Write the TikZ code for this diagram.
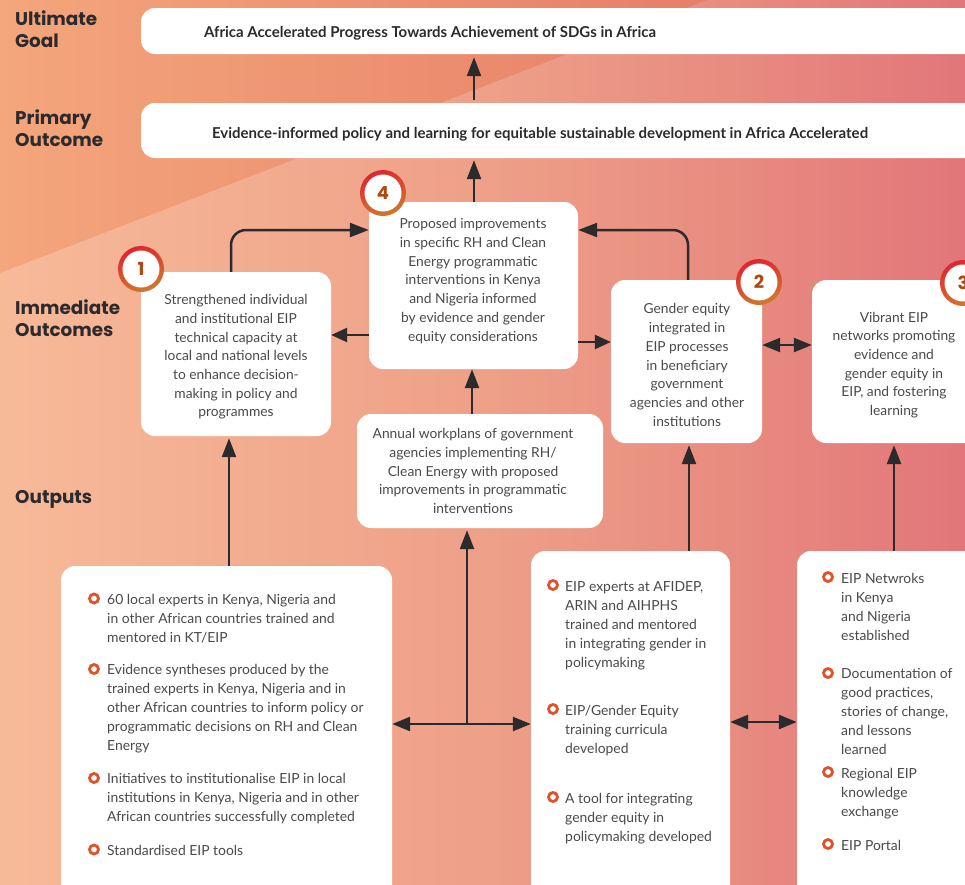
\documentclass[tikz,border=0pt]{standalone}
\usepackage{fontspec}
\setmainfont{Lato}
\newfontfamily\headfont{Poppins}
\usetikzlibrary{arrows.meta}
\definecolor{inkdark}{HTML}{2B2A2C}
\definecolor{bodyink}{HTML}{4A4A4C}
\definecolor{digitc}{HTML}{B0480F}
\definecolor{bulletc}{HTML}{E0522A}
\definecolor{ringa}{HTML}{E0252F}
\definecolor{ringb}{HTML}{D07A2E}
\definecolor{bgl}{HTML}{F7BA99}
\definecolor{bgm}{HTML}{EEA088}
\definecolor{bgn}{HTML}{E88C80}
\definecolor{bgr}{HTML}{E2767A}
\definecolor{wl}{HTML}{F4A67C}
\definecolor{wr}{HTML}{E67F68}
\pgfdeclarehorizontalshading{bgshade}{100bp}{color(0bp)=(bgl); color(25bp)=(bgl); color(50bp)=(bgm); color(62.5bp)=(bgn); color(75bp)=(bgr); color(100bp)=(bgr)}
\tikzset{
  x=1pt,y=-1pt,
  boxnode/.style={draw=none,fill=white,rounded corners=14pt,inner sep=0pt},
  arr/.style={draw=inkdark,line width=2.5pt,-{Triangle[length=19pt,width=14pt]}},
  arrtwo/.style={draw=inkdark,line width=2.5pt,{Triangle[length=18pt,width=14pt]}-{Triangle[length=18pt,width=14pt]}},
  arrshort/.style={draw=inkdark,line width=2.5pt,-{Triangle[length=16pt,width=14pt]}},
  headlabel/.style={anchor=north west,inner sep=0pt,align=left,text=inkdark,font=\headfont\bfseries\fontsize{18.4}{21.5}\selectfont},
  titletext/.style={inner sep=0pt,align=center,text=inkdark,font=\bfseries\fontsize{15}{18}\selectfont},
  bodytext/.style={inner sep=0pt,align=center,text=bodyink,font=\fontsize{13.8}{18.7}\selectfont},
  itemtext/.style={anchor=north west,inner sep=0pt,align=left,text=bodyink,font=\fontsize{13.9}{18.9}\selectfont},
  bulletmark/.style={circle,draw=bulletc,line width=2.8pt,fill=white,minimum size=9pt,inner sep=0pt},
  ringouter/.style={circle,minimum size=46pt,inner sep=0pt,left color=ringa,right color=ringb,shading angle=20},
  ringinner/.style={circle,fill=white,minimum size=37pt,inner sep=0pt,text=digitc,font=\headfont\bfseries\fontsize{18}{18}\selectfont},
}
\newcommand{\boxat}[5]{\node[boxnode,minimum width={(#4-#2)*1pt},minimum height={(#5-#3)*1pt}] (#1) at ({(#2+#4)/2},{(#3+#5)/2}) {};}
\begin{document}
\begin{tikzpicture}
\useasboundingbox (0,0) rectangle (965,884);
\clip (0,0) rectangle (965,884);
\shade[shading=bgshade] (0,0) rectangle (965,884);
\shade[left color=wl,right color=wr] (0,0) -- (707,0) -- (0,273) -- cycle;

% boxes
\boxat{ultimate}{141}{8}{1000}{54}
\boxat{primary}{141}{103}{1000}{158}
\boxat{io1}{141}{272}{331}{436}
\boxat{io4}{369}{202}{578}{369}
\boxat{io2}{611}{280}{762}{443}
\boxat{io3}{812}{280}{1000}{443}
\boxat{annual}{357}{414}{603}{528}
\boxat{out1}{61}{566}{392}{920}
\boxat{out2}{531}{551}{730}{920}
\boxat{out3}{797}{551}{1000}{920}

% x / y guides for connectors
\coordinate (xtop) at (474,0);
\coordinate (xa) at (231,0);
\coordinate (xb) at (688,0);
\coordinate (xc) at (472,0);
\coordinate (xd) at (229,0);
\coordinate (xe) at (689,0);
\coordinate (xf) at (894,0);
\coordinate (xg) at (467,0);
\coordinate (ya) at (0,230);
\coordinate (yb) at (0,335);
\coordinate (yc) at (0,342);
\coordinate (yd) at (0,345);
\coordinate (ye) at (0,724);
\coordinate (yf) at (0,722);
\coordinate (junction) at (467,724);

% connectors
\draw[arr] ([yshift=3pt]primary.north -| xtop) -- ([yshift=-3pt]ultimate.south -| xtop);
\draw[arr] (io4.north -| xtop) -- ([yshift=-2pt]primary.south -| xtop);
\draw[arr,rounded corners=15pt] (io1.north -| xa) -- (ya -| xa) -- (ya -| io4.west);
\draw[arr,rounded corners=15pt] (io2.north -| xb) -- (ya -| xb) -- (ya -| io4.east);
\draw[arrshort] (yb -| io4.west) -- (yb -| io1.east);
\draw[arrshort] (yc -| io4.east) -- (yc -| io2.west);
\draw[arrtwo] (yd -| io2.east) -- (yd -| io3.west);
\draw[arr] (annual.north -| xc) -- (io4.south -| xc);
\draw[arr] (out1.north -| xd) -- ([yshift=-2pt]io1.south -| xd);
\draw[arr] (out2.north -| xe) -- ([yshift=-2pt]io2.south -| xe);
\draw[arr] (out3.north -| xf) -- ([yshift=-2pt]io3.south -| xf);
\draw[arrtwo] (ye -| out1.east) -- (ye -| out2.west);
\draw[arr] (junction) -- ([yshift=-2pt]annual.south -| xg);
\draw[arrtwo] (yf -| out2.east) -- (yf -| out3.west);

% level labels
\node[headlabel] (l1) at (15,11) {Ultimate\\Goal};
\node[headlabel] (l2) at (15,110) {Primary\\Outcome};
\node[headlabel] (l3) at (15,300) {Immediate\\Outcomes};
\node[headlabel] (l4) at (15,490) {Outputs};

% box texts
\node[titletext] (t1) at (430,33) {Africa Accelerated Progress Towards Achievement of SDGs in Africa};
\node[titletext] (t2) at (540,134) {Evidence-informed policy and learning for equitable sustainable development in Africa Accelerated};
\node[bodytext] (t3) at (236,357) {Strengthened individual\\and institutional EIP\\technical capacity at\\local and national levels\\to enhance decision-\\making in policy and\\programmes};
\node[bodytext] (t4) at (473,281) {Proposed improvements\\in specific RH and Clean\\Energy programmatic\\interventions in Kenya\\and Nigeria informed\\by evidence and gender\\equity considerations};
\node[bodytext] (t5) at (687,365) {Gender equity\\integrated in\\EIP processes\\in beneficiary\\government\\agencies and other\\institutions};
\node[bodytext] (t6) at (894,365) {Vibrant EIP\\networks promoting\\evidence and\\gender equity in\\EIP, and fostering\\learning};
\node[bodytext] (t7) at (473,471) {Annual workplans of government\\agencies implementing RH/\\Clean Energy with proposed\\improvements in programmatic\\interventions};

% numbered badges
\node[ringouter] (r1) at (141,269) {};
\node[ringinner] (b1) at (r1) {1};
\node[ringouter] (r4) at (383,193) {};
\node[ringinner] (b4) at (r4) {4};
\node[ringouter] (r2) at (759,282) {};
\node[ringinner] (b2) at (r2) {2};
\node[ringouter] (r3) at (963,283) {};
\node[ringinner] (b3) at (r3) {3};

% output lists
\node[bulletmark] (a1) at (94,598.5) {};
\node[itemtext] (a1t) at (107,591) {\strut 60 local experts in Kenya, Nigeria and\\in other African countries trained and\\mentored in KT/EIP};
\node[bulletmark] (a2) at (94,669) {};
\node[itemtext] (a2t) at (107,661) {\strut Evidence syntheses produced by the\\trained experts in Kenya, Nigeria and in\\other African countries to inform policy or\\programmatic decisions on RH and Clean\\Energy};
\node[bulletmark] (a3) at (94,778) {};
\node[itemtext] (a3t) at (107,770) {\strut Initiatives to institutionalise EIP in local\\institutions in Kenya, Nigeria and in other\\African countries successfully completed};
\node[bulletmark] (a4) at (94,849.5) {};
\node[itemtext] (a4t) at (107,842) {\strut Standardised EIP tools};

\node[bulletmark] (c1) at (553,585) {};
\node[itemtext] (c1t) at (565,578) {\strut EIP experts at AFIDEP,\\ARIN and AIHPHS\\trained and mentored\\in integrating gender in\\policymaking};
\node[bulletmark] (c2) at (553,709) {};
\node[itemtext] (c2t) at (565,702) {\strut EIP/Gender Equity\\training curricula\\developed};
\node[bulletmark] (c3) at (553,797) {};
\node[itemtext] (c3t) at (565,790) {\strut A tool for integrating\\gender equity in\\policymaking developed};

\node[bulletmark] (d1) at (828,577) {};
\node[itemtext] (d1t) at (841,570) {\strut EIP Netwroks\\in Kenya\\and Nigeria\\established};
\node[bulletmark] (d2) at (828,673) {};
\node[itemtext] (d2t) at (841,665) {\strut Documentation of\\good practices,\\stories of change,\\and lessons\\learned};
\node[bulletmark] (d3) at (828,772) {};
\node[itemtext] (d3t) at (841,765) {\strut Regional EIP\\knowledge\\exchange};
\node[bulletmark] (d4) at (828,844) {};
\node[itemtext] (d4t) at (841,837) {\strut EIP Portal};
\end{tikzpicture}
\end{document}
